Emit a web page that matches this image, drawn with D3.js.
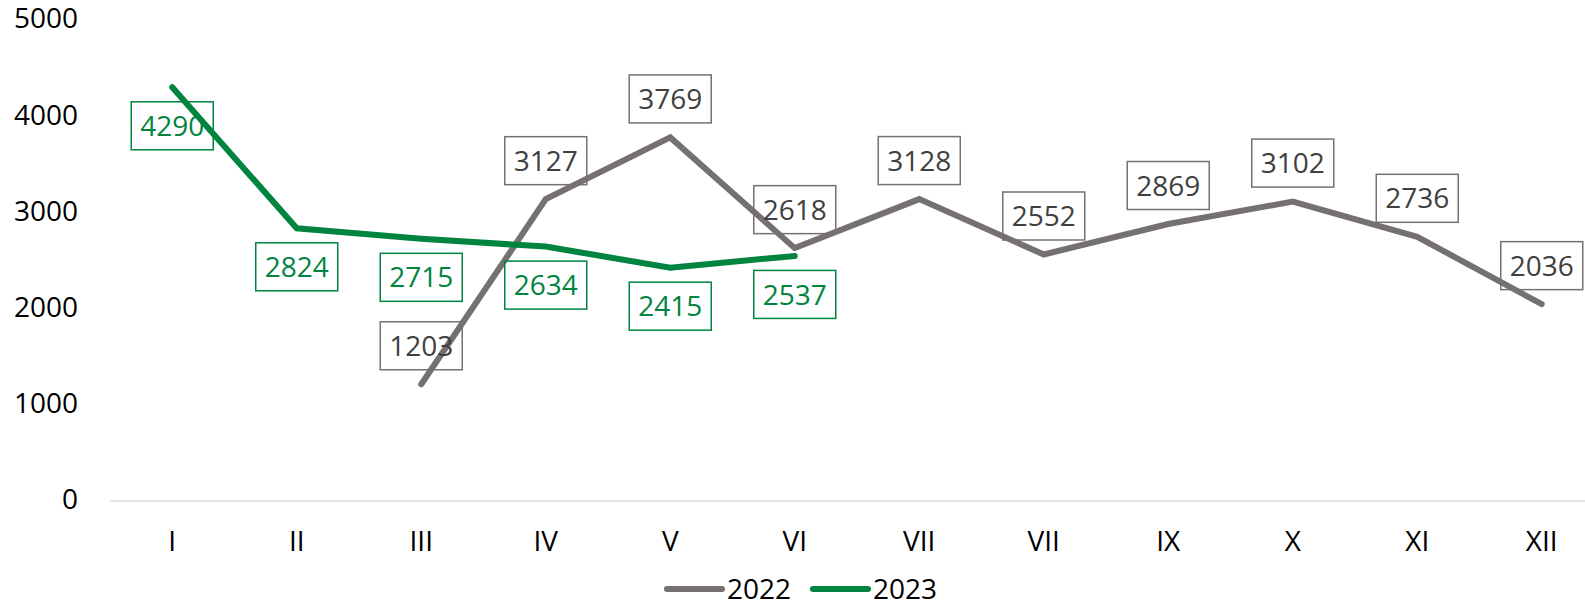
<!DOCTYPE html>
<html lang="en">
<head>
<meta charset="UTF-8">
<title>2022 / 2023</title>
<script src="https://cdn.jsdelivr.net/npm/d3@7"></script>
<style>
  body { margin: 0; background: #fff; }
  svg { display: block; font-family: "Open Sans", "Noto Sans", sans-serif; }
</style>
</head>
<body>
<svg width="1585" height="604"></svg>
<script>
// data
var months = ["I", "II", "III", "IV", "V", "VI", "VII", "VII", "IX", "X", "XI", "XII"];
var values2022 = [null, null, 1203, 3127, 3769, 2618, 3128, 2552, 2869, 3102, 2736, 2036];
var values2023 = [4290, 2824, 2715, 2634, 2415, 2537, null, null, null, null, null, null];
var yTicks = [0, 1000, 2000, 3000, 4000, 5000];

var grey = "#767171", green = "#00843f";
var svg = d3.select("svg");

var x = d3.scaleBand()
    .domain(d3.range(months.length))
    .range([110, 1604]);
var y = d3.scaleLinear()
    .domain([0, 5000])
    .range([500, 19]);

// x axis
var xAxis = svg.append("g")
    .attr("transform", "translate(0,500.5)")
    .call(d3.axisBottom(x).tickSize(0).tickPadding(0).tickFormat(function(i){ return months[i]; }));
xAxis.select(".domain").attr("stroke", "#d9d9d9").attr("stroke-width", 1.5);
xAxis.selectAll("text")
    .attr("y", 41).attr("dy", "0.35em")
    .attr("font-size", 28).attr("font-family", "'Open Sans', sans-serif")
    .attr("fill", "#000");

// y axis (labels only)
var yAxis = svg.append("g")
    .attr("transform", "translate(110,0)")
    .call(d3.axisLeft(y).tickValues(yTicks).tickSize(0).tickPadding(32).tickFormat(d3.format("d")));
yAxis.select(".domain").remove();
yAxis.selectAll("text")
    .attr("font-size", 28).attr("font-family", "'Open Sans', sans-serif")
    .attr("fill", "#000");

function cx(i){ return x(i) + x.bandwidth() / 2; }

var line = d3.line()
    .defined(function(d){ return d != null; })
    .x(function(d, i){ return cx(i); })
    .y(function(d){ return y(d); });

var series = [
  { name: "2022", values: values2022, color: grey, text: "#404040", dy: -38.5 },
  { name: "2023", values: values2023, color: green, text: green, dy: 38.5 }
];

series.forEach(function(s){
  svg.append("path")
      .datum(s.values)
      .attr("d", line)
      .attr("fill", "none")
      .attr("stroke", s.color)
      .attr("stroke-width", 6)
      .attr("stroke-linejoin", "miter")
      .attr("stroke-linecap", "round");
});

// data labels
series.forEach(function(s){
  var pts = s.values.map(function(v, i){ return { v: v, i: i }; })
      .filter(function(d){ return d.v != null; });
  var lab = svg.append("g").selectAll("g")
      .data(pts)
      .enter()
      .append("g")
      .attr("transform", function(d){ return "translate(" + cx(d.i) + "," + (y(d.v) + s.dy) + ")"; });
  lab.append("rect")
      .attr("x", -41).attr("y", -24)
      .attr("width", 82).attr("height", 48)
      .attr("fill", "none")
      .attr("stroke", s.color)
      .attr("stroke-width", 1.5);
  lab.append("text")
      .attr("text-anchor", "middle")
      .attr("dy", "0.36em")
      .attr("font-size", 28)
      .attr("fill", s.text)
      .text(function(d){ return d.v; });
});

// legend
var legend = svg.append("g").attr("transform", "translate(667,589)");
var lx = [0, 146];
series.forEach(function(s, k){
  var g = legend.append("g").attr("transform", "translate(" + lx[k] + ",0)");
  g.append("line")
      .attr("x1", 0).attr("x2", 55)
      .attr("stroke", s.color).attr("stroke-width", 6).attr("stroke-linecap", "round");
  g.append("text")
      .attr("x", 60).attr("dy", "0.36em")
      .attr("font-size", 28).attr("fill", "#000")
      .text(s.name);
});
</script>
</body>
</html>
